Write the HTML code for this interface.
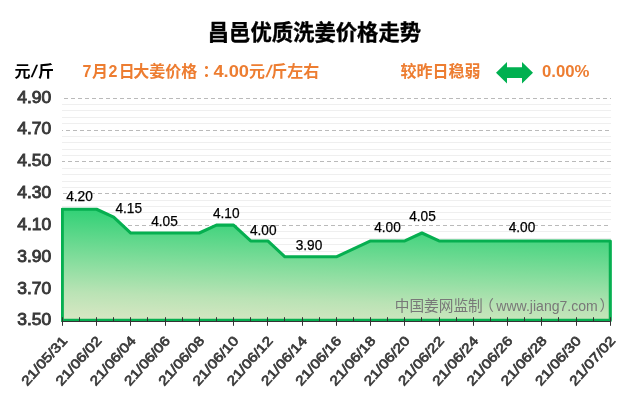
<!DOCTYPE html>
<html lang="zh-CN"><head><meta charset="utf-8"><title>昌邑优质洗姜价格走势</title>
<style>html,body{margin:0;padding:0;background:#fff;}body{width:640px;height:410px;overflow:hidden;}svg{display:block;}text{font-family:"Liberation Sans", "Noto Sans CJK SC", sans-serif;}</style>
</head><body>
<svg width="640" height="410" viewBox="0 0 640 410">
<defs><linearGradient id="g" x1="80.9" y1="209.25" x2="76.98" y2="320.2" gradientUnits="userSpaceOnUse"><stop offset="0" stop-color="#31d176"/><stop offset="0.5" stop-color="#8cdea0"/><stop offset="0.75" stop-color="#bae3b5"/><stop offset="1" stop-color="#d9e7c4"/></linearGradient><clipPath id="cp"><rect x="60.9" y="90" width="552" height="232"/></clipPath></defs>
<rect width="640" height="410" fill="#fff"/>
<g stroke="#efefef" stroke-width="1" shape-rendering="crispEdges"><line x1="62" x2="611" y1="104.5" y2="104.5"/><line x1="62" x2="611" y1="110.5" y2="110.5"/><line x1="62" x2="611" y1="117.5" y2="117.5"/><line x1="62" x2="611" y1="123.5" y2="123.5"/><line x1="62" x2="611" y1="136.5" y2="136.5"/><line x1="62" x2="611" y1="142.5" y2="142.5"/><line x1="62" x2="611" y1="149.5" y2="149.5"/><line x1="62" x2="611" y1="155.5" y2="155.5"/><line x1="62" x2="611" y1="168.5" y2="168.5"/><line x1="62" x2="611" y1="174.5" y2="174.5"/><line x1="62" x2="611" y1="181.5" y2="181.5"/><line x1="62" x2="611" y1="187.5" y2="187.5"/><line x1="62" x2="611" y1="200.5" y2="200.5"/><line x1="62" x2="611" y1="206.5" y2="206.5"/><line x1="62" x2="611" y1="212.5" y2="212.5"/><line x1="62" x2="611" y1="219.5" y2="219.5"/><line x1="62" x2="611" y1="231.5" y2="231.5"/><line x1="62" x2="611" y1="238.5" y2="238.5"/><line x1="62" x2="611" y1="244.5" y2="244.5"/><line x1="62" x2="611" y1="251.5" y2="251.5"/><line x1="62" x2="611" y1="263.5" y2="263.5"/><line x1="62" x2="611" y1="269.5" y2="269.5"/><line x1="62" x2="611" y1="276.5" y2="276.5"/><line x1="62" x2="611" y1="282.5" y2="282.5"/><line x1="62" x2="611" y1="295.5" y2="295.5"/><line x1="62" x2="611" y1="301.5" y2="301.5"/><line x1="62" x2="611" y1="307.5" y2="307.5"/><line x1="62" x2="611" y1="314.5" y2="314.5"/></g>
<g stroke="#bababa" stroke-width="1" stroke-dasharray="4 3" shape-rendering="crispEdges"><line x1="62" x2="611" y1="98.5" y2="98.5" stroke-dashoffset="5"/><line x1="62" x2="611" y1="130.5" y2="130.5" stroke-dashoffset="3"/><line x1="62" x2="611" y1="161.5" y2="161.5" stroke-dashoffset="1"/><line x1="62" x2="611" y1="193.5" y2="193.5" stroke-dashoffset="6"/><line x1="62" x2="611" y1="225.5" y2="225.5" stroke-dashoffset="4"/><line x1="62" x2="611" y1="257.5" y2="257.5" stroke-dashoffset="2"/><line x1="62" x2="611" y1="288.5" y2="288.5" stroke-dashoffset="0"/></g>
<g clip-path="url(#cp)"><path d="M62.30 320.40 L62.30 209.25 L79.42 209.25 L96.55 209.25 L113.67 217.18 L130.80 233.03 L147.93 233.03 L165.05 233.03 L182.18 233.03 L199.30 233.03 L216.43 225.10 L233.55 225.10 L250.68 240.95 L267.80 240.95 L284.93 256.80 L302.05 256.80 L319.18 256.80 L336.30 256.80 L353.43 248.88 L370.55 240.95 L387.68 240.95 L404.80 240.95 L421.93 233.03 L439.05 240.95 L456.18 240.95 L473.30 240.95 L490.43 240.95 L507.55 240.95 L524.67 240.95 L541.80 240.95 L558.92 240.95 L576.05 240.95 L593.17 240.95 L610.30 240.95 L610.30 320.40 Z" fill="url(#g)" stroke="#06af50" stroke-width="3.1" stroke-linejoin="round"/></g>
<g stroke="#333" stroke-width="1"><line x1="61.8" x2="610.9" y1="321.5" y2="321.5"/><line x1="62.5" x2="62.5" y1="317.2" y2="325.8"/><line x1="79.5" x2="79.5" y1="317.2" y2="321.5"/><line x1="96.5" x2="96.5" y1="317.2" y2="325.8"/><line x1="113.5" x2="113.5" y1="317.2" y2="321.5"/><line x1="130.5" x2="130.5" y1="317.2" y2="325.8"/><line x1="147.5" x2="147.5" y1="317.2" y2="321.5"/><line x1="165.5" x2="165.5" y1="317.2" y2="325.8"/><line x1="182.5" x2="182.5" y1="317.2" y2="321.5"/><line x1="199.5" x2="199.5" y1="317.2" y2="325.8"/><line x1="216.5" x2="216.5" y1="317.2" y2="321.5"/><line x1="233.5" x2="233.5" y1="317.2" y2="325.8"/><line x1="250.5" x2="250.5" y1="317.2" y2="321.5"/><line x1="267.5" x2="267.5" y1="317.2" y2="325.8"/><line x1="284.5" x2="284.5" y1="317.2" y2="321.5"/><line x1="302.5" x2="302.5" y1="317.2" y2="325.8"/><line x1="319.5" x2="319.5" y1="317.2" y2="321.5"/><line x1="336.5" x2="336.5" y1="317.2" y2="325.8"/><line x1="353.5" x2="353.5" y1="317.2" y2="321.5"/><line x1="370.5" x2="370.5" y1="317.2" y2="325.8"/><line x1="387.5" x2="387.5" y1="317.2" y2="321.5"/><line x1="404.5" x2="404.5" y1="317.2" y2="325.8"/><line x1="421.5" x2="421.5" y1="317.2" y2="321.5"/><line x1="439.5" x2="439.5" y1="317.2" y2="325.8"/><line x1="456.5" x2="456.5" y1="317.2" y2="321.5"/><line x1="473.5" x2="473.5" y1="317.2" y2="325.8"/><line x1="490.5" x2="490.5" y1="317.2" y2="321.5"/><line x1="507.5" x2="507.5" y1="317.2" y2="325.8"/><line x1="524.5" x2="524.5" y1="317.2" y2="321.5"/><line x1="541.5" x2="541.5" y1="317.2" y2="325.8"/><line x1="558.5" x2="558.5" y1="317.2" y2="321.5"/><line x1="576.5" x2="576.5" y1="317.2" y2="325.8"/><line x1="593.5" x2="593.5" y1="317.2" y2="321.5"/><line x1="610.5" x2="610.5" y1="317.2" y2="325.8"/></g>
<text x="314.4" y="39.5" text-anchor="middle" font-size="21.33" font-weight="bold" fill="#000" stroke="#000" stroke-width="0.35">昌邑优质洗姜价格走势</text>
<text y="76.8" font-size="16" font-weight="bold" fill="#000"><tspan x="14.5">元</tspan><tspan x="37.9">斤</tspan></text>
<text transform="translate(32.9 76.8) skewX(-14)" text-anchor="middle" font-size="17" font-weight="bold" fill="#000">/</text>
<text y="76.8" font-size="16" font-weight="bold" fill="#ed7d31"><tspan x="82.6">7</tspan><tspan x="91.9">月</tspan><tspan x="108.4">2</tspan><tspan x="118.7">日</tspan><tspan x="133.3">大姜价格</tspan><tspan x="202.6">：</tspan><tspan x="213.4" textLength="35.6" lengthAdjust="spacingAndGlyphs">4.00</tspan><tspan x="249">元</tspan><tspan x="271.2">斤左右</tspan></text>
<text transform="translate(267.5 76.8) skewX(-14)" text-anchor="middle" font-size="17" font-weight="bold" fill="#ed7d31">/</text>
<text x="400.5" y="76.8" font-size="16" font-weight="bold" fill="#ed7d31">较昨日稳弱</text>
<text x="542" y="76.8" font-size="16" font-weight="bold" fill="#ed7d31" textLength="47.5" lengthAdjust="spacingAndGlyphs">0.00%</text>
<path d="M496 72.7 L507 62 L507 67.3 L522 67.3 L522 62 L533 72.7 L522 83.4 L522 78.1 L507 78.1 L507 83.4 Z" fill="#00b050"/>
<text x="17.3" y="102.5" font-size="15.8" font-weight="normal" fill="#383838" stroke="#383838" stroke-width="0.85" textLength="34" lengthAdjust="spacingAndGlyphs">4.90</text>
<text x="17.3" y="134.4" font-size="15.8" font-weight="normal" fill="#383838" stroke="#383838" stroke-width="0.85" textLength="34" lengthAdjust="spacingAndGlyphs">4.70</text>
<text x="17.3" y="166.2" font-size="15.8" font-weight="normal" fill="#383838" stroke="#383838" stroke-width="0.85" textLength="34" lengthAdjust="spacingAndGlyphs">4.50</text>
<text x="17.3" y="198.1" font-size="15.8" font-weight="normal" fill="#383838" stroke="#383838" stroke-width="0.85" textLength="34" lengthAdjust="spacingAndGlyphs">4.30</text>
<text x="17.3" y="229.9" font-size="15.8" font-weight="normal" fill="#383838" stroke="#383838" stroke-width="0.85" textLength="34" lengthAdjust="spacingAndGlyphs">4.10</text>
<text x="17.3" y="261.8" font-size="15.8" font-weight="normal" fill="#383838" stroke="#383838" stroke-width="0.85" textLength="34" lengthAdjust="spacingAndGlyphs">3.90</text>
<text x="17.3" y="293.6" font-size="15.8" font-weight="normal" fill="#383838" stroke="#383838" stroke-width="0.85" textLength="34" lengthAdjust="spacingAndGlyphs">3.70</text>
<text x="17.3" y="325.4" font-size="15.8" font-weight="normal" fill="#383838" stroke="#383838" stroke-width="0.85" textLength="34" lengthAdjust="spacingAndGlyphs">3.50</text>
<text x="66.15" y="200.65" font-size="14.3" fill="#000" stroke="#000" stroke-width="0.25" textLength="26.6" lengthAdjust="spacingAndGlyphs">4.20</text>
<text x="115.40" y="213.15" font-size="14.3" fill="#000" stroke="#000" stroke-width="0.25" textLength="26.6" lengthAdjust="spacingAndGlyphs">4.15</text>
<text x="151.15" y="225.90" font-size="14.3" fill="#000" stroke="#000" stroke-width="0.25" textLength="26.6" lengthAdjust="spacingAndGlyphs">4.05</text>
<text x="212.90" y="217.65" font-size="14.3" fill="#000" stroke="#000" stroke-width="0.25" textLength="26.6" lengthAdjust="spacingAndGlyphs">4.10</text>
<text x="249.90" y="234.90" font-size="14.3" fill="#000" stroke="#000" stroke-width="0.25" textLength="26.6" lengthAdjust="spacingAndGlyphs">4.00</text>
<text x="295.65" y="249.65" font-size="14.3" fill="#000" stroke="#000" stroke-width="0.25" textLength="26.6" lengthAdjust="spacingAndGlyphs">3.90</text>
<text x="374.15" y="232.40" font-size="14.3" fill="#000" stroke="#000" stroke-width="0.25" textLength="26.6" lengthAdjust="spacingAndGlyphs">4.00</text>
<text x="409.15" y="221.15" font-size="14.3" fill="#000" stroke="#000" stroke-width="0.25" textLength="26.6" lengthAdjust="spacingAndGlyphs">4.05</text>
<text x="508.65" y="232.40" font-size="14.3" fill="#000" stroke="#000" stroke-width="0.25" textLength="26.6" lengthAdjust="spacingAndGlyphs">4.00</text>
<text y="310.6" font-size="14.67" fill="#787878"><tspan x="394.75">中国姜网监制</tspan><tspan x="479.3">（</tspan><tspan x="496.3" textLength="101.5" lengthAdjust="spacingAndGlyphs">www.jiang7.com</tspan><tspan x="599.6">）</tspan></text>
<text transform="translate(68.00 341.2) rotate(-48)" text-anchor="end" font-size="13.3" font-weight="normal" fill="#3a3a3a" stroke="#3a3a3a" stroke-width="0.7" textLength="61" lengthAdjust="spacingAndGlyphs">21/05/31</text>
<text transform="translate(102.25 341.2) rotate(-48)" text-anchor="end" font-size="13.3" font-weight="normal" fill="#3a3a3a" stroke="#3a3a3a" stroke-width="0.7" textLength="61" lengthAdjust="spacingAndGlyphs">21/06/02</text>
<text transform="translate(136.50 341.2) rotate(-48)" text-anchor="end" font-size="13.3" font-weight="normal" fill="#3a3a3a" stroke="#3a3a3a" stroke-width="0.7" textLength="61" lengthAdjust="spacingAndGlyphs">21/06/04</text>
<text transform="translate(170.75 341.2) rotate(-48)" text-anchor="end" font-size="13.3" font-weight="normal" fill="#3a3a3a" stroke="#3a3a3a" stroke-width="0.7" textLength="61" lengthAdjust="spacingAndGlyphs">21/06/06</text>
<text transform="translate(205.00 341.2) rotate(-48)" text-anchor="end" font-size="13.3" font-weight="normal" fill="#3a3a3a" stroke="#3a3a3a" stroke-width="0.7" textLength="61" lengthAdjust="spacingAndGlyphs">21/06/08</text>
<text transform="translate(239.25 341.2) rotate(-48)" text-anchor="end" font-size="13.3" font-weight="normal" fill="#3a3a3a" stroke="#3a3a3a" stroke-width="0.7" textLength="61" lengthAdjust="spacingAndGlyphs">21/06/10</text>
<text transform="translate(273.50 341.2) rotate(-48)" text-anchor="end" font-size="13.3" font-weight="normal" fill="#3a3a3a" stroke="#3a3a3a" stroke-width="0.7" textLength="61" lengthAdjust="spacingAndGlyphs">21/06/12</text>
<text transform="translate(307.75 341.2) rotate(-48)" text-anchor="end" font-size="13.3" font-weight="normal" fill="#3a3a3a" stroke="#3a3a3a" stroke-width="0.7" textLength="61" lengthAdjust="spacingAndGlyphs">21/06/14</text>
<text transform="translate(342.00 341.2) rotate(-48)" text-anchor="end" font-size="13.3" font-weight="normal" fill="#3a3a3a" stroke="#3a3a3a" stroke-width="0.7" textLength="61" lengthAdjust="spacingAndGlyphs">21/06/16</text>
<text transform="translate(376.25 341.2) rotate(-48)" text-anchor="end" font-size="13.3" font-weight="normal" fill="#3a3a3a" stroke="#3a3a3a" stroke-width="0.7" textLength="61" lengthAdjust="spacingAndGlyphs">21/06/18</text>
<text transform="translate(410.50 341.2) rotate(-48)" text-anchor="end" font-size="13.3" font-weight="normal" fill="#3a3a3a" stroke="#3a3a3a" stroke-width="0.7" textLength="61" lengthAdjust="spacingAndGlyphs">21/06/20</text>
<text transform="translate(444.75 341.2) rotate(-48)" text-anchor="end" font-size="13.3" font-weight="normal" fill="#3a3a3a" stroke="#3a3a3a" stroke-width="0.7" textLength="61" lengthAdjust="spacingAndGlyphs">21/06/22</text>
<text transform="translate(479.00 341.2) rotate(-48)" text-anchor="end" font-size="13.3" font-weight="normal" fill="#3a3a3a" stroke="#3a3a3a" stroke-width="0.7" textLength="61" lengthAdjust="spacingAndGlyphs">21/06/24</text>
<text transform="translate(513.25 341.2) rotate(-48)" text-anchor="end" font-size="13.3" font-weight="normal" fill="#3a3a3a" stroke="#3a3a3a" stroke-width="0.7" textLength="61" lengthAdjust="spacingAndGlyphs">21/06/26</text>
<text transform="translate(547.50 341.2) rotate(-48)" text-anchor="end" font-size="13.3" font-weight="normal" fill="#3a3a3a" stroke="#3a3a3a" stroke-width="0.7" textLength="61" lengthAdjust="spacingAndGlyphs">21/06/28</text>
<text transform="translate(581.75 341.2) rotate(-48)" text-anchor="end" font-size="13.3" font-weight="normal" fill="#3a3a3a" stroke="#3a3a3a" stroke-width="0.7" textLength="61" lengthAdjust="spacingAndGlyphs">21/06/30</text>
<text transform="translate(616.00 341.2) rotate(-48)" text-anchor="end" font-size="13.3" font-weight="normal" fill="#3a3a3a" stroke="#3a3a3a" stroke-width="0.7" textLength="61" lengthAdjust="spacingAndGlyphs">21/07/02</text>
</svg></body></html>
